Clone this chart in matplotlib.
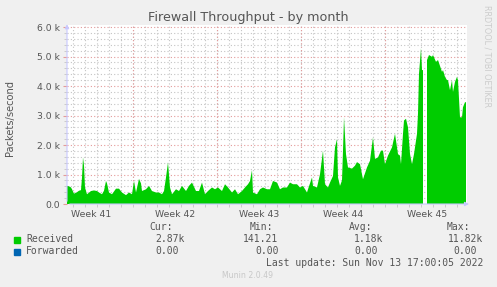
import matplotlib
matplotlib.use("Agg")
import matplotlib.pyplot as plt
from matplotlib.patches import Rectangle
import numpy as np

# hours since start of graph, packets/second (rows of 10 kept aligned)
hours = [
    0, 4, 8, 10, 14, 20, 24, 28, 30, 32,
    34, 36, 40, 48, 54, 60, 64, 70, 74, 78,
    80, 84, 90, 98, 104, 110, 118, 124, 130, 134,
    138, 144, 148, 150, 158, 164, 170, 178, 184, 190,
    194, 198, 202, 206, 210, 218, 224, 230, 238, 244,
    250, 258, 264, 270, 276, 282, 290, 296, 302, 310,
    316, 322, 330, 336, 342, 350, 356, 362, 366, 370,
    372, 380, 386, 392, 400, 406, 412, 420, 426, 432,
    440, 446, 452, 460, 466, 472, 480, 482, 490, 492,
    500, 506, 512, 516, 522, 526, 532, 536, 540, 542,
    546, 550, 552, 554, 558, 562, 570, 576, 580, 586,
    592, 600, 606, 612, 616, 622, 628, 632, 636, 642,
    650, 656, 662, 666, 668, 672, 674, 678, 682, 686,
    690, 694, 700, 702, 704, 708, 710, 712, 716, 720,
    724, 730, 732, 738, 742, 750, 752, 756, 760, 762,
    766, 770, 772, 776, 780, 782, 786, 790, 792, 796,
    798]
received = [
    614, 600, 560, 500, 350, 400, 450, 470, 900, 1580,
    1300, 560, 330, 440, 460, 440, 390, 330, 450, 780,
    700, 390, 330, 520, 520, 390, 300, 390, 330, 780,
    390, 850, 700, 440, 500, 614, 440, 390, 390, 330,
    440, 900, 1410, 560, 330, 500, 440, 614, 440, 614,
    727, 440, 440, 727, 330, 440, 560, 500, 560, 440,
    670, 560, 390, 500, 330, 440, 560, 670, 780, 1150,
    390, 330, 500, 560, 500, 500, 780, 727, 500, 560,
    560, 727, 670, 670, 560, 614, 390, 500, 900, 614,
    560, 1010, 1810, 670, 560, 727, 950, 1920, 2200, 900,
    614, 800, 1810, 2940, 1690, 1240, 1200, 1300, 1420, 1350,
    840, 1240, 1470, 2260, 1530, 1580, 1810, 1810, 1350, 1640,
    1920, 2380, 1690, 1640, 1350, 2380, 2830, 2890, 2600, 1700,
    1350, 1690, 2380, 3060, 4420, 5280, 4540, 4540, np.nan, 4880,
    5050, 4990, 5050, 4820, 4880, 4480, 4540, 4310, 4200, 4200,
    3860, 4200, 3800, 4140, 4310, 4200, 2940, 2940, 3280, 3450,
    3450]

week_names = ["Week 41", "Week 42", "Week 43", "Week 44", "Week 45"]
week_starts = [132, 300, 468, 636]          # Monday 00:00
week_centers = [48, 216, 384, 552, 720]
y_major = [0, 1000, 2000, 3000, 4000, 5000, 6000]
y_labels = ["0.0", "1.0 k", "2.0 k", "3.0 k", "4.0 k", "5.0 k", "6.0 k"]

legend_names = ["Received", "Forwarded"]
legend_colors = ["#00CC00", "#0066B3"]
legend_values = [["2.87k", "141.21", "1.18k", "11.82k"],
                 ["0.00", "0.00", "0.00", "0.00"]]
col_heads = ["Cur:", "Min:", "Avg:", "Max:"]

W, H = 497, 287
bg = "#F0F0F0"
txt = "#555555"
minor_c = "#c4c4c4"
major_c = "#e49a9a"
fig = plt.figure(figsize=(W / 100, H / 100), dpi=100, facecolor=bg)
ax = fig.add_axes([67 / W, 83 / H, 400 / W, 179 / H])
ax.set_facecolor("white")

ax.fill_between(hours, received, 0, color=legend_colors[0], linewidth=0, zorder=3)

ax.set_xlim(0, 800)
ax.set_ylim(0, 6068)

# grid
ax.set_yticks(y_major, y_labels)
ax.set_yticks(np.arange(0, 6001, 200), minor=True)
ax.set_xticks(week_centers, week_names)
ax.set_xticks(np.arange(12, 800, 24), minor=True)
ax.grid(True, which="minor", color=minor_c, linestyle=(0, (1, 2)), linewidth=0.8, zorder=1)
ax.yaxis.grid(True, which="major", color=major_c, linestyle=(0, (1, 2)), linewidth=0.8, zorder=2)
ax.xaxis.grid(False, which="major")
for ws in week_starts:
    ax.axvline(ws, color=major_c, linestyle=(0, (1, 2)), linewidth=0.8, zorder=2)

ax.tick_params(axis="y", which="major", length=3, color=major_c, labelsize=6.7,
               labelcolor=txt, pad=2)
ax.tick_params(axis="y", which="minor", length=2, color=minor_c)
ax.tick_params(axis="x", which="major", length=0, labelsize=6.7, labelcolor=txt, pad=4)
ax.tick_params(axis="x", which="minor", length=2, color=minor_c)

for s in ax.spines.values():
    s.set_visible(False)
ax.annotate("", xy=(1.012, 0), xytext=(0, 0), xycoords="axes fraction",
            arrowprops=dict(arrowstyle="-|>", color="#c8c8ff", lw=0.8, mutation_scale=6))
ax.annotate("", xy=(0, 1.02), xytext=(0, 0), xycoords="axes fraction",
            arrowprops=dict(arrowstyle="-|>", color="#c8c8ff", lw=0.8, mutation_scale=6))

# texts
fig.text(248 / W, 1 - 18 / H, "Firewall Throughput - by month", ha="center", va="center",
         fontsize=9.15, color=txt)
fig.text(10 / W, 1 - 118 / H, "Packets/second", rotation=90, ha="center", va="center",
         fontsize=7.1, color=txt)
fig.text(487.5 / W, 1 - 56 / H, "RRDTOOL / TOBI OETIKER", rotation=270, ha="center",
         va="center", fontsize=5.8, color="#cccccc")

mono = "DejaVu Sans Mono"
head_x = [173, 273, 372, 470]
for h, x in zip(col_heads, head_x):
    fig.text(x / W, 1 - 227.5 / H, h, ha="right", va="center", family=mono, fontsize=7,
             color=txt)
val_x = [[155, 243, 354, 448], [155, 255, 354, 453]]
row_y = [239.5, 251.5]
for name, col, vals, xs, y in zip(legend_names, legend_colors, legend_values, val_x, row_y):
    fig.patches.append(Rectangle((14 / W, 1 - (y + 3) / H), 6 / W, 6 / H, color=col,
                                 transform=fig.transFigure))
    fig.text(26 / W, 1 - y / H, name, ha="left", va="center", family=mono, fontsize=7,
             color=txt)
    for v, x in zip(vals, xs):
        fig.text(x / W, 1 - y / H, v, ha="left", va="center", family=mono, fontsize=7,
                 color=txt)
fig.text(483 / W, 1 - 263.5 / H, "Last update: Sun Nov 13 17:00:05 2022", ha="right",
         va="center", family=mono, fontsize=7, color=txt)
fig.text(248 / W, 1 - 276 / H, "Munin 2.0.49", ha="center", va="center", fontsize=5.6,
         color="#c8c8c8")

fig.savefig("out.png", dpi=100, facecolor=bg)
